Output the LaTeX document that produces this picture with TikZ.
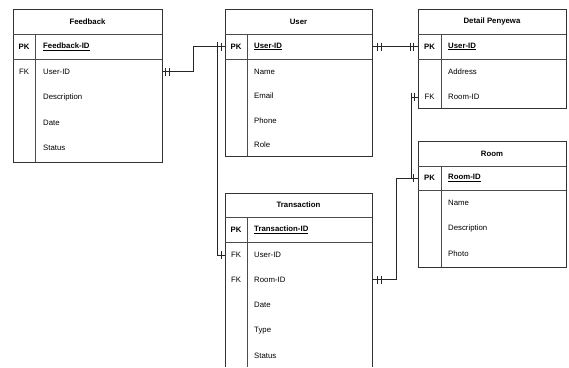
\documentclass[tikz,border=0pt]{standalone}
\usepackage{fontspec}
\setmainfont{Liberation Sans}
\begin{document}
\begin{tikzpicture}[x=1pt,y=-1pt,
  frame/.style={draw=black!80,line width=0.8pt},
  rule/.style={draw=black!70,line width=0.7pt},
  link/.style={draw=black!85,line width=0.8pt},
  tick/.style={draw=black!85,line width=0.7pt},
  ttl/.style={font=\fontsize{7.8}{9}\selectfont\bfseries,inner sep=0pt},
  key/.style={font=\fontsize{7.8}{9}\selectfont,inner sep=0pt},
  pkey/.style={font=\fontsize{7.8}{9}\selectfont\bfseries,inner sep=0pt},
  fld/.style={font=\fontsize{7.8}{9}\selectfont,inner sep=0pt,anchor=west},
  pfld/.style={font=\fontsize{7.8}{9}\selectfont\bfseries,inner sep=0pt,anchor=west},
]
\useasboundingbox (0,0) rectangle (569,367);
\newcommand{\ul}[1]{\underline{#1}}

% ---------- Feedback ----------
\draw[frame] (13,9) rectangle (162,162);
\draw[rule] (13,34) -- (162,34) (13,59) -- (162,59) (35,34) -- (35,162);
\node[ttl] (fb-t) at (87.5,21.5) {Feedback};
\node[pkey] (fb-pk) at (24,46.5) {PK};
\node[pfld] (fb-id) at (43,46.5) {\ul{Feedback-ID}};
\node[key] (fb-fk) at (24,71.5) {FK};
\node[fld] (fb-user) at (43,71.5) {User-ID};
\node[fld] (fb-desc) at (43,97) {Description};
\node[fld] (fb-date) at (43,122.5) {Date};
\node[fld] (fb-stat) at (43,148) {Status};

% ---------- User ----------
\draw[frame] (225,9) rectangle (372,156);
\draw[rule] (225,34) -- (372,34) (225,59) -- (372,59) (247,34) -- (247,156);
\node[ttl] (us-t) at (298.5,21.5) {User};
\node[pkey] (us-pk) at (236,46.5) {PK};
\node[pfld] (us-id) at (254,46.5) {\ul{User-ID}};
\node[fld] (us-name) at (254,71.5) {Name};
\node[fld] (us-mail) at (254,96) {Email};
\node[fld] (us-phone) at (254,120.5) {Phone};
\node[fld] (us-role) at (254,145) {Role};

% ---------- Detail Penyewa ----------
\draw[frame] (418,9) rectangle (566,108);
\draw[rule] (418,34) -- (566,34) (418,59) -- (566,59) (441,34) -- (441,108);
\node[ttl] (dp-t) at (492,21.5) {Detail Penyewa};
\node[pkey] (dp-pk) at (429.5,46.5) {PK};
\node[pfld] (dp-id) at (448,46.5) {\ul{User-ID}};
\node[fld] (dp-addr) at (448,71.5) {Address};
\node[key] (dp-fk) at (429.5,97) {FK};
\node[fld] (dp-room) at (448,97) {Room-ID};

% ---------- Room ----------
\draw[frame] (418,141) rectangle (566,267);
\draw[rule] (418,166) -- (566,166) (418,190) -- (566,190) (441,166) -- (441,267);
\node[ttl] (rm-t) at (492,153.5) {Room};
\node[pkey] (rm-pk) at (429.5,178) {PK};
\node[pfld] (rm-id) at (448,178) {\ul{Room-ID}};
\node[fld] (rm-name) at (448,202.5) {Name};
\node[fld] (rm-desc) at (448,228) {Description};
\node[fld] (rm-photo) at (448,254) {Photo};

% ---------- Transaction (runs past the lower edge) ----------
\draw[frame] (225,367) -- (225,193) -- (372,193) -- (372,367);
\draw[rule] (225,217) -- (372,217) (225,242) -- (372,242) (247,217) -- (247,367);
\node[ttl] (tr-t) at (298.5,205) {Transaction};
\node[pkey] (tr-pk) at (236,230) {PK};
\node[pfld] (tr-id) at (254,230) {\ul{Transaction-ID}};
\node[key] (tr-fk1) at (236,255) {FK};
\node[fld] (tr-user) at (254,255) {User-ID};
\node[key] (tr-fk2) at (236,279.5) {FK};
\node[fld] (tr-room) at (254,279.5) {Room-ID};
\node[fld] (tr-date) at (254,305) {Date};
\node[fld] (tr-type) at (254,331) {Type};
\node[fld] (tr-stat) at (254,356) {Status};

% ---------- attachment points on table edges ----------
\coordinate (fbU) at (162,71.5);
\coordinate (usL) at (225,46.5);
\coordinate (usR) at (372,46.5);
\coordinate (dpL) at (418,46.5);
\coordinate (dpF) at (418,97);
\coordinate (rmL) at (418,178);
\coordinate (trU) at (225,255);
\coordinate (trR) at (372,279.5);

% ---------- relationships ----------
% Feedback.User-ID -> User.User-ID
\draw[link] (fbU) -- ++(31,0) |- (usL);
\draw[tick] ([xshift=3pt]fbU) ++(0,-4) -- ++(0,8) ++(4,-8) -- ++(0,8);
\draw[tick] ([xshift=-3.5pt]usL) ++(0,-4) -- ++(0,8);
% User.User-ID -> Transaction.User-ID
\draw[link] (usL) -- ++(-8,0) |- (trU);
\draw[tick] ([xshift=-8pt]usL) ++(0,-4.5) -- ++(0,4.5);
\draw[tick] ([xshift=-4pt]trU) ++(0,-4) -- ++(0,8);
% User.User-ID -> Detail Penyewa.User-ID
\draw[link] (usR) -- (dpL);
\draw[tick] ([xshift=5pt]usR) ++(0,-4) -- ++(0,8) ++(4,-8) -- ++(0,8);
\draw[tick] ([xshift=-8pt]dpL) ++(0,-4) -- ++(0,8) ++(3,-8) -- ++(0,8);
% Room.Room-ID -> Detail Penyewa.Room-ID
\draw[link] (rmL) -- ++(-7,0) |- (dpF);
\draw[tick] ([xshift=-7pt]dpF) ++(0,-4.5) -- ++(0,4.5);
\draw[tick] ([xshift=-3.5pt]dpF) ++(0,-4) -- ++(0,8);
% Transaction.Room-ID -> Room.Room-ID
\draw[link] (trR) -- ++(24,0) |- (rmL);
\draw[tick] ([xshift=5pt]trR) ++(0,-4) -- ++(0,8) ++(4,-8) -- ++(0,8);
\draw[tick] ([xshift=-4.5pt]rmL) ++(0,-4) -- ++(0,8);
\end{tikzpicture}
\end{document}
